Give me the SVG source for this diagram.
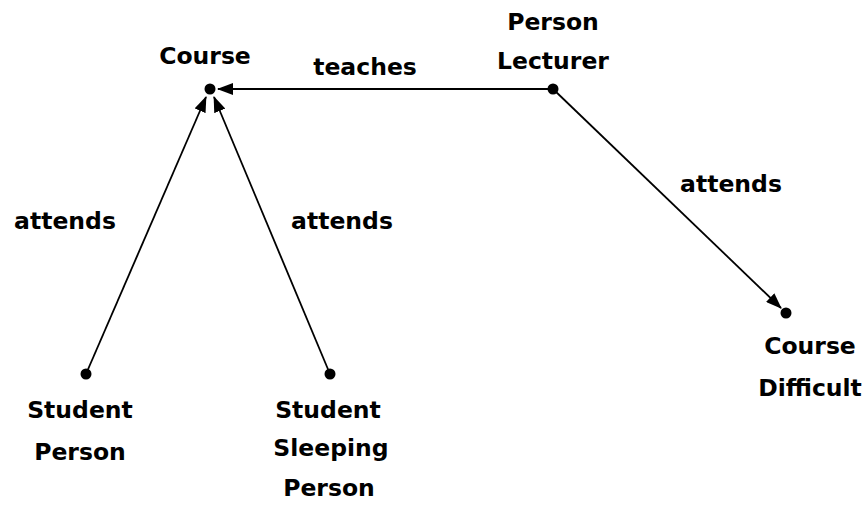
<svg xmlns="http://www.w3.org/2000/svg" width="863" height="508" viewBox="0 0 863 508">
<style>
text{font-family:"DejaVu Sans","Liberation Sans",sans-serif;font-weight:bold;font-size:23.5px;fill:#000;text-anchor:middle}
.e{stroke:#000;stroke-width:1.8;fill:none;marker-end:url(#ah)}
.d{fill:#000}
</style>
<defs>
<marker id="ah" markerWidth="16" markerHeight="12" refX="15" refY="6" orient="auto" markerUnits="userSpaceOnUse">
<path d="M0,0 L16,6 L0,12 z" fill="#000"/>
</marker>
</defs>
<rect width="863" height="508" fill="#fff"/>
<g id="connectors">
<line class="e" x1="553" y1="89" x2="218" y2="89"/>
<line class="e" x1="86" y1="374" x2="206" y2="97"/>
<line class="e" x1="330" y1="374" x2="214" y2="97"/>
<line class="e" x1="553" y1="89" x2="781" y2="308"/>
<text x="365" y="75">teaches</text>
<text x="65" y="229">attends</text>
<text x="342" y="229">attends</text>
<text x="731" y="192">attends</text>
</g>
<g id="course"><circle class="d" cx="210" cy="89" r="5.5"/><text x="205" y="64">Course</text></g>
<g id="lecturer"><circle class="d" cx="553" cy="89" r="5.5"/><text x="553" y="30">Person</text><text x="553" y="69">Lecturer</text></g>
<g id="student"><circle class="d" cx="86" cy="374" r="5.5"/><text x="80" y="418">Student</text><text x="80" y="460">Person</text></g>
<g id="sleeping"><circle class="d" cx="330" cy="374" r="5.5"/><text x="328" y="418">Student</text><text x="331" y="456">Sleeping</text><text x="329" y="496">Person</text></g>
<g id="difficult"><circle class="d" cx="786" cy="313" r="5.5"/><text x="810" y="354">Course</text><text x="810" y="396">Difficult</text></g>
</svg>
